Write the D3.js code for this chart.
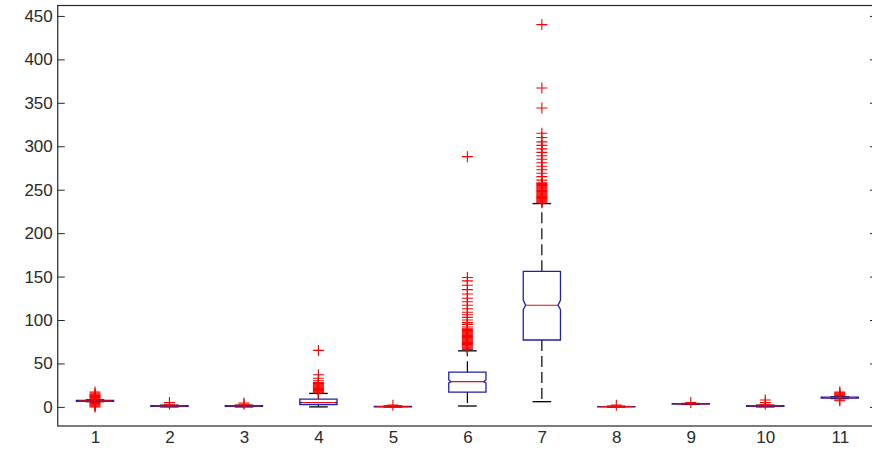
<!DOCTYPE html>
<html>
<head>
<meta charset="utf-8">
<script src="https://cdn.jsdelivr.net/npm/d3@7"></script>
<style>
  body { margin: 0; background: #fff; }
  svg { display: block; }
  .tick text { font-family: "Liberation Sans", Arial, sans-serif; font-size: 17px; fill: #2a2a2a; }
</style>
</head>
<body>
<svg id="chart" width="872" height="459"></svg>
<script>
// Group labels and five-number summaries for each of the 11 groups
const categories  = ["1", "2", "3", "4", "5", "6", "7", "8", "9", "10", "11"];
const whiskerLow  = [6,   0,   0,   0,   0,   1,   6,   0,   2.8, 0,   9.6];
const q1          = [6.5, 0.6, 0.6, 2.5, 0.1, 17,  77,  0.1, 3.1, 0.6, 10.1];
const medians     = [7,   1,   1,   5,   0.3, 29,  117, 0.2, 3.3, 1,   10.6];
const q3          = [7.5, 1.4, 1.4, 9,   0.5, 40,  156, 0.4, 3.6, 1.4, 11.1];
const whiskerHigh = [8,   2,   2,   15.5, 1,  64.5, 234, 0.8, 3.9, 2,  11.6];
// Notch extents (median confidence interval)
const notchLow    = [6.9, 1,   1,   4.5, 0.3, 27.5, 112, 0.2, 3.3, 1,   10.5];
const notchHigh   = [7.1, 1,   1,   5.5, 0.3, 31,  123, 0.2, 3.3, 1,   10.7];
// Points beyond the whiskers, per group
const outliers = [
  [0, 1, 2, 3, 4, 5, 9, 10, 11, 12, 13, 14, 15, 17],
  [3, 5],
  [3, 4.5],
  [16, 17, 18, 19, 20, 21, 22, 23, 24, 25, 26, 27, 28, 30, 33, 37, 65],
  [2],
  [66, 67, 68, 69, 70, 71, 72, 73, 74, 75, 76, 77, 78, 79, 80, 81, 82, 83, 84, 85, 86, 87, 88, 89, 90,
   92, 95, 97, 100, 103, 106, 109, 113, 117, 121, 125, 130, 135, 140, 145, 149, 288],
  [235, 236, 237, 238, 239, 240, 241, 242, 243, 244, 245, 246, 247, 248, 249, 250, 251, 252, 253, 254,
   255, 256, 257, 258, 261, 265, 269, 273, 277, 281, 285, 289, 293, 297, 301, 305, 310, 315, 344, 367, 440],
  [2],
  [5],
  [3, 5, 8],
  [7, 8, 13, 14, 15, 16, 17]
];
const yTicks = [0, 50, 100, 150, 200, 250, 300, 350, 400, 450];

const svg = d3.select("#chart");
const plotL = 57.75, plotR = 877, plotT = 5.5, plotB = 426;

const x = d3.scaleLinear().domain([0.5, categories.length + 0.5]).range([plotL, plotR]);
const y = d3.scaleLinear().domain([-22, 462]).range([plotB, plotT]);

const boxW = (x(2) - x(1)) * 0.5;
const capW = boxW * 0.5;
const inset = boxW * 0.065;

const boxColor = "#1f1fb0", medColor = "#dd1111", outColor = "#ff0000";

const groups = categories.map((c, i) => ({
  pos: i + 1, wl: whiskerLow[i], q1: q1[i], med: medians[i], q3: q3[i], wh: whiskerHigh[i],
  nl: notchLow[i], nh: notchHigh[i], out: outliers[i]
}));

const g = svg.append("g");

// whiskers (dashed) and caps
groups.forEach(d => {
  const cx = x(d.pos);
  g.append("line").attr("x1", cx).attr("x2", cx).attr("y1", y(d.q3)).attr("y2", y(d.wh))
    .attr("stroke", "#000").attr("stroke-width", 1.2).attr("stroke-dasharray", "11,5");
  g.append("line").attr("x1", cx).attr("x2", cx).attr("y1", y(d.q1)).attr("y2", y(d.wl))
    .attr("stroke", "#000").attr("stroke-width", 1.2).attr("stroke-dasharray", "11,5");
  [d.wl, d.wh].forEach(v => {
    g.append("line").attr("x1", cx - capW / 2).attr("x2", cx + capW / 2)
      .attr("y1", y(v)).attr("y2", y(v)).attr("stroke", "#000").attr("stroke-width", 1.3);
  });
});

// notched boxes
groups.forEach(d => {
  const cx = x(d.pos), l = cx - boxW / 2, r = cx + boxW / 2;
  const pts = [
    [l, y(d.q1)], [l, y(d.nl)], [l + inset, y(d.med)], [l, y(d.nh)], [l, y(d.q3)],
    [r, y(d.q3)], [r, y(d.nh)], [r - inset, y(d.med)], [r, y(d.nl)], [r, y(d.q1)]
  ];
  g.append("path").attr("d", d3.line()(pts) + "Z")
    .attr("fill", "none").attr("stroke", boxColor).attr("stroke-width", 1.3);
  g.append("line").attr("x1", l + inset).attr("x2", r - inset)
    .attr("y1", y(d.med)).attr("y2", y(d.med)).attr("stroke", medColor).attr("stroke-width", 1.2);
});

// outlier markers '+'
const m = 5.5;
groups.forEach(d => {
  const cx = x(d.pos);
  g.selectAll(null).data(d.out).enter().append("path")
    .attr("d", v => `M${cx - m},${y(v)}H${cx + m}M${cx},${y(v) - m}V${y(v) + m}`)
    .attr("stroke", outColor).attr("stroke-width", 1.1).attr("fill", "none");
});

// axes frame
svg.append("rect").attr("x", plotL).attr("y", plotT).attr("width", plotR - plotL).attr("height", plotB - plotT)
  .attr("fill", "none").attr("stroke", "#262626").attr("stroke-width", 1.2);

const yAxis = svg.append("g").attr("transform", `translate(${plotL},0)`)
  .call(d3.axisLeft(y).tickValues(yTicks).tickSize(-7).tickPadding(5).tickFormat(d3.format("d")));
yAxis.select(".domain").remove();
yAxis.selectAll(".tick line").attr("stroke", "#262626");

const yAxisR = svg.append("g").attr("transform", `translate(${plotR},0)`)
  .call(d3.axisRight(y).tickValues(yTicks).tickSize(-7).tickFormat(""));
yAxisR.select(".domain").remove();
yAxisR.selectAll(".tick line").attr("stroke", "#262626");

const xAxis = svg.append("g").attr("transform", `translate(0,${plotB})`)
  .call(d3.axisBottom(x).tickValues(groups.map(d => d.pos)).tickSize(0).tickPadding(5)
    .tickFormat((v, i) => categories[i]));
xAxis.select(".domain").remove();
</script>
</body>
</html>
